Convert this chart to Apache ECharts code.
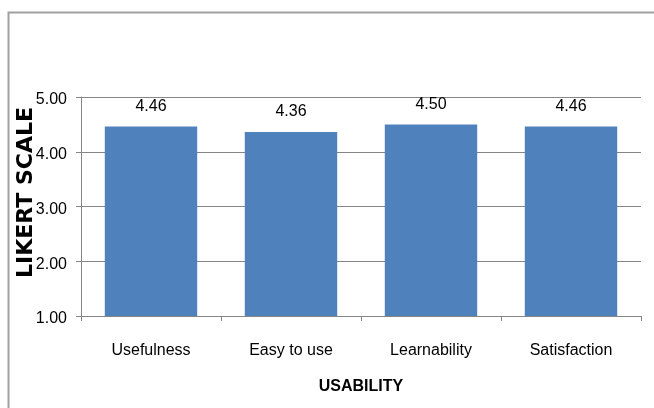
<!DOCTYPE html>
<html lang="en">
  <head>
    <meta charset="UTF-8">
    <title>Usability</title>
    <script src="https://cdn.jsdelivr.net/npm/echarts@6/dist/echarts.min.js"></script>
    <style>
      html, body { margin: 0; padding: 0; background: #fff; }
    </style>
  </head>
  <body>
    <div id="main" style="width: 654px; height: 408px"></div>
    <script type="text/javascript">
      // values
      var categories = ['Usefulness', 'Easy to use', 'Learnability', 'Satisfaction'];
      var scores = [4.46, 4.36, 4.50, 4.46];
      var yTicks = [1, 2, 3, 4, 5];

      var font = '"Liberation Sans", Arial, sans-serif';
      var chart = echarts.init(document.getElementById('main'));

      chart.setOption({
        animation: false,
        backgroundColor: '#fff',
        graphic: [{
          type: 'rect',
          left: 6, top: 10,
          shape: { width: 700, height: 450 },
          style: { fill: 'none', stroke: '#a0a0a0', lineWidth: 2 }
        }],
        grid: { left: 81, right: 13, top: 97, bottom: 92, containLabel: false, outerBoundsMode: 'none' },
        xAxis: {
          type: 'category',
          data: categories,
          name: 'USABILITY',
          nameLocation: 'middle',
          nameGap: 63,
          nameMoveOverlap: false,
          nameTextStyle: { fontFamily: font, fontWeight: 'bold', fontSize: 16, color: '#000' },
          axisLine: { lineStyle: { color: '#868686', width: 1 } },
          axisTick: { show: true, length: 5, lineStyle: { color: '#868686' } },
          axisLabel: { margin: 27, fontFamily: font, fontSize: 16, color: '#000' }
        },
        yAxis: {
          type: 'value',
          min: yTicks[0],
          max: yTicks[yTicks.length - 1],
          interval: 1,
          name: 'LIKERT SCALE',
          nameLocation: 'middle',
          nameGap: 44,
          nameMoveOverlap: false,
          nameTextStyle: {
            fontFamily: '"DejaVu Sans", sans-serif', fontWeight: 'bold', fontSize: 22, color: '#000',
            padding: [0, 0, 0, 28]
          },
          axisLine: { show: true, lineStyle: { color: '#868686' } },
          axisTick: { show: true, length: 5, lineStyle: { color: '#868686' } },
          splitLine: { show: true, lineStyle: { color: '#868686', width: 1 } },
          axisLabel: {
            margin: 14,
            lineHeight: 6,
            verticalAlign: 'top',
            fontFamily: font, fontSize: 16, color: '#000',
            formatter: function (v) { return v.toFixed(2); }
          }
        },
        series: [{
          type: 'bar',
          data: scores,
          barCategoryGap: '34%',
          itemStyle: { color: '#4F81BD' },
          label: {
            show: true,
            position: 'top',
            distance: 12,
            fontFamily: font, fontSize: 16, color: '#000',
            formatter: function (p) { return p.value.toFixed(2); }
          }
        }]
      });
    </script>
  </body>
</html>
